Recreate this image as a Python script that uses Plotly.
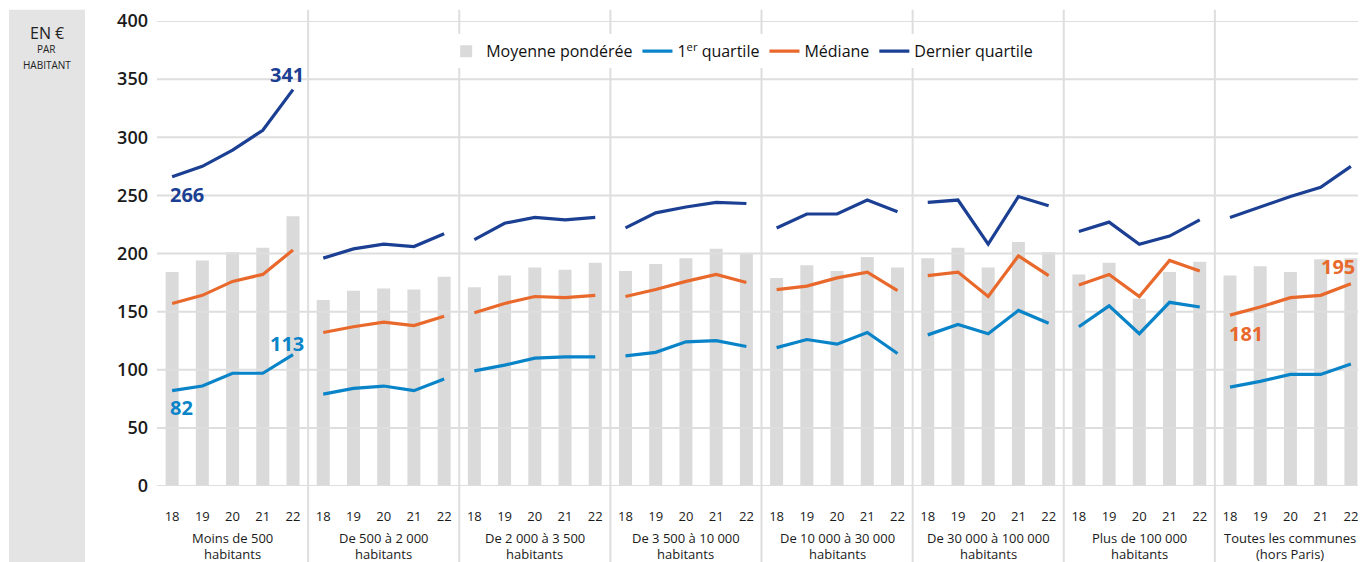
import plotly.graph_objects as go

# ---------------- data ----------------
years = ["18", "19", "20", "21", "22"]
groups = [
    "Moins de 500<br>habitants",
    "De 500 à 2 000<br>habitants",
    "De 2 000 à 3 500<br>habitants",
    "De 3 500 à 10 000<br>habitants",
    "De 10 000 à 30 000<br>habitants",
    "De 30 000 à 100 000<br>habitants",
    "Plus de 100 000<br>habitants",
    "Toutes les communes<br>(hors Paris)",
]
moyenne = [
    [184, 194, 201, 205, 232],
    [160, 168, 170, 169, 180],
    [171, 181, 188, 186, 192],
    [185, 191, 196, 204, 200],
    [179, 190, 185, 197, 188],
    [196, 205, 188, 210, 201],
    [182, 192, 161, 184, 193],
    [181, 189, 184, 195, 196],
]
q1 = [
    [82, 86, 97, 97, 113],
    [79, 84, 86, 82, 92],
    [99, 104, 110, 111, 111],
    [112, 115, 124, 125, 120],
    [119, 126, 122, 132, 114],
    [130, 139, 131, 151, 140],
    [137, 155, 131, 158, 154],
    [85, 90, 96, 96, 105],
]
mediane = [
    [157, 164, 176, 182, 203],
    [132, 137, 141, 138, 146],
    [149, 157, 163, 162, 164],
    [163, 169, 176, 182, 175],
    [169, 172, 179, 184, 168],
    [181, 184, 163, 198, 181],
    [173, 182, 163, 194, 185],
    [147, 154, 162, 164, 174],
]
dernier = [
    [266, 275, 289, 306, 341],
    [196, 204, 208, 206, 217],
    [212, 226, 231, 229, 231],
    [222, 235, 240, 244, 243],
    [222, 234, 234, 246, 236],
    [244, 246, 208, 249, 241],
    [219, 227, 208, 215, 229],
    [231, 240, 249, 257, 275],
]
y_ticks = [0, 50, 100, 150, 200, 250, 300, 350, 400]

# ---------------- styles ----------------
FONT = "Open Sans"
C_BAR = "#dadada"
C_Q1 = "#0a84c8"
C_MED = "#e8692b"
C_Q3 = "#1b3f93"
C_GRID = "#dedede"

n_y = len(years)
n_g = len(groups)
x_all = list(range(n_y * n_g))


def flat(series):
    return [v for grp in series for v in grp]


def gapped(series):
    xs, ys = [], []
    for gi, grp in enumerate(series):
        for yi, v in enumerate(grp):
            xs.append(gi * n_y + yi)
            ys.append(v)
        xs.append(None)
        ys.append(None)
    return xs, ys


fig = go.Figure()

fig.add_trace(go.Bar(
    x=x_all, y=flat(moyenne), name="Moyenne pondérée",
    marker=dict(color=C_BAR, line=dict(width=0)), width=0.43,
    hoverinfo="skip",
))

# horizontal grid drawn above bars but below lines
gx, gy = [], []
for t in y_ticks:
    gx += [-0.5, n_y * n_g - 0.5, None]
    gy += [t, t, None]
fig.add_trace(go.Scatter(
    x=gx, y=gy, mode="lines", line=dict(color=C_GRID, width=2),
    showlegend=False, hoverinfo="skip",
))

for name, series, col in [("1<sup>er</sup> quartile", q1, C_Q1),
                          ("Médiane", mediane, C_MED),
                          ("Dernier quartile", dernier, C_Q3)]:
    xs, ys = gapped(series)
    fig.add_trace(go.Scatter(
        x=xs, y=ys, mode="lines", name=name,
        line=dict(color=col, width=3.2), connectgaps=False, hoverinfo="skip",
    ))

shapes = []
# group separators
for gi in range(1, n_g):
    xv = gi * n_y - 0.5
    shapes.append(dict(type="line", xref="x", yref="paper", x0=xv, x1=xv,
                       y0=-0.18, y1=1.024, line=dict(color=C_GRID, width=2),
                       layer="above"))
# left unit box
shapes.append(dict(type="rect", xref="paper", yref="paper",
                   x0=-0.1224, x1=-0.0596, y0=-0.18, y1=1.024,
                   fillcolor="#e4e4e4", line=dict(width=0), layer="below"))

annotations = []
for gi, g in enumerate(groups):
    line1, line2 = g.split("<br>")
    for txt, yy in [(line1, -0.1115), (line2, -0.1455)]:
        annotations.append(dict(x=gi * n_y + 2, y=yy, xref="x", yref="paper",
                                text=txt, showarrow=False, yanchor="middle",
                                xanchor="center",
                                font=dict(family=FONT, size=13,
                                          color="#1a1a1a")))

BOX_X = -0.091
annotations += [
    dict(x=BOX_X, y=0.974, xref="paper", yref="paper", text="EN €",
         showarrow=False, yanchor="middle", xanchor="center",
         font=dict(family=FONT, size=16, color="#222")),
    dict(x=BOX_X, y=0.940, xref="paper", yref="paper", text="PAR",
         showarrow=False, yanchor="middle", xanchor="center",
         font=dict(family=FONT, size=10, color="#222")),
    dict(x=BOX_X, y=0.906, xref="paper", yref="paper", text="HABITANT",
         showarrow=False, yanchor="middle", xanchor="center",
         font=dict(family=FONT, size=10, color="#222")),
]


def lab(xi, yv, txt, col, xanchor, yanchor, xs, ys):
    return dict(x=xi, y=yv, xref="x", yref="y", text="<b>%s</b>" % txt,
                showarrow=False, xanchor=xanchor, yanchor=yanchor,
                xshift=xs, yshift=ys,
                font=dict(family=FONT, size=20, color=col))


annotations += [
    lab(4, dernier[0][4], "341", C_Q3, "right", "bottom", 13, 0),
    lab(0, dernier[0][0], "266", C_Q3, "left", "top", -4, -2),
    lab(0, q1[0][0], "82", C_Q1, "left", "top", -4, -1),
    lab(4, q1[0][4], "113", C_Q1, "right", "bottom", 13, -4),
    lab(35, mediane[7][0], "181", C_MED, "left", "top", -3, -3),
    lab(39, mediane[7][4], "195", C_MED, "right", "bottom", 6, 2),
]

# the page adds an 8 px body margin: shrink figure and margins to compensate
fig.update_layout(
    width=1358, height=554,
    margin=dict(l=149, r=0, t=11, b=76),
    plot_bgcolor="white", paper_bgcolor="white",
    font=dict(family=FONT, color="#1a1a1a"),
    bargap=0.5,
    showlegend=True,
    legend=dict(orientation="h", x=0.484, y=0.935, xanchor="center",
                yanchor="middle", bgcolor="white",
                font=dict(family=FONT, size=16, color="#111"),
                itemwidth=30, traceorder="normal"),
    shapes=shapes,
    annotations=annotations,
    xaxis=dict(range=[-0.5, n_y * n_g - 0.5], tickvals=x_all,
               ticktext=years * n_g, showgrid=False, zeroline=False,
               showline=False, ticks="", ticklabelstandoff=21,
               ticklabeloverflow="allow",
               tickfont=dict(family=FONT, size=13, color="#1a1a1a")),
    yaxis=dict(range=[0, 400], tickvals=y_ticks, showgrid=False,
               zeroline=False, showline=False, ticks="",
               ticklabelstandoff=8, ticklabeloverflow="allow",
               tickfont=dict(family=FONT, size=18, color="#1a1a1a",
                             weight=600)),
)

fig.write_html("out.html")
